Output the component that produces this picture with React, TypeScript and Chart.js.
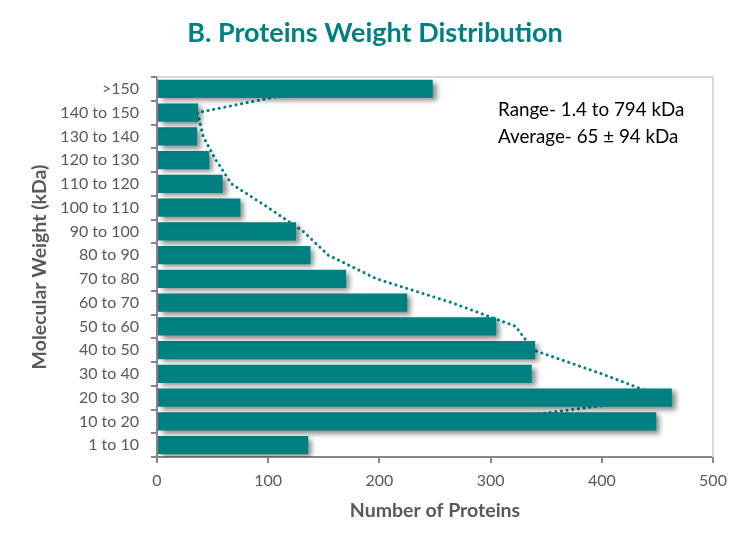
import React, { useEffect, useRef } from 'react';
import { Chart, registerables } from 'chart.js';

Chart.register(...registerables);

// categories listed bottom-up, as in the source sheet
const weightBins = [
  '1 to 10', '10 to 20', '20 to 30', '30 to 40', '40 to 50', '50 to 60',
  '60 to 70', '70 to 80', '80 to 90', '90 to 100', '100 to 110',
  '110 to 120', '120 to 130', '130 to 140', '140 to 150', '>150',
];
const proteinCounts = [136, 449, 463, 337, 340, 305, 225, 170, 138, 125, 75, 59, 47, 36, 37, 248];
const xTicks = [0, 100, 200, 300, 400, 500];
const notes = ['Range- 1.4 to 794 kDa', 'Average- 65 ± 94 kDa'];

// Excel-style 2 period moving average trendline
const trend = proteinCounts.map((v, i) => (i === 0 ? null : (v + proteinCounts[i - 1]) / 2));

const TEAL = '#008080';
const AXIS = '#868686';
const LABEL = '#595959';
const FONT = 'Lato, "Open Sans", sans-serif';

const decorations = {
  id: 'decorations',
  beforeDatasetsDraw(chart: any) {
    const { ctx, chartArea: a } = chart;
    ctx.save();
    ctx.strokeStyle = '#d9d9d9';
    ctx.lineWidth = 2;
    ctx.beginPath();
    ctx.moveTo(a.left, a.top);
    ctx.lineTo(a.right, a.top);
    ctx.lineTo(a.right, a.bottom);
    ctx.stroke();
    ctx.restore();
  },
  beforeDatasetDraw(chart: any, args: any) {
    if (chart.data.datasets[args.index].type === 'line') return;
    const ctx = chart.ctx;
    ctx.save();
    ctx.shadowColor = 'rgba(0,0,0,0.45)';
    ctx.shadowBlur = 5;
    ctx.shadowOffsetX = 4;
    ctx.shadowOffsetY = 3;
  },
  afterDatasetDraw(chart: any, args: any) {
    if (chart.data.datasets[args.index].type === 'line') return;
    chart.ctx.restore();
  },
  afterDraw(chart: any) {
    const { ctx, chartArea: a } = chart;
    ctx.save();
    ctx.textBaseline = 'middle';
    ctx.textAlign = 'center';
    ctx.fillStyle = TEAL;
    ctx.font = `bold 27px ${FONT}`;
    ctx.fillText('B. Proteins Weight Distribution', 375, 33);

    ctx.fillStyle = LABEL;
    ctx.font = `bold 19.5px ${FONT}`;
    ctx.fillText('Number of Proteins', (a.left + a.right) / 2, 511);
    ctx.translate(40, (a.top + a.bottom) / 2);
    ctx.rotate(-Math.PI / 2);
    ctx.fillText('Molecular Weight (kDa)', 0, 0);
    ctx.restore();

    ctx.save();
    ctx.fillStyle = '#000';
    ctx.font = `18.8px ${FONT}`;
    ctx.textBaseline = 'middle';
    ctx.textAlign = 'left';
    notes.forEach((t, i) => ctx.fillText(t, 498, 110 + i * 27));
    ctx.restore();
  },
};

export default function App() {
  const canvasRef = useRef<HTMLCanvasElement | null>(null);

  useEffect(() => {
    document.body.style.margin = '0';
    const ctx = canvasRef.current;
    if (!ctx) return;

    const chart = new Chart(ctx, {
      type: 'bar',
      data: {
        labels: weightBins,
        datasets: [
          {
            type: 'bar',
            data: proteinCounts,
            backgroundColor: TEAL,
            barPercentage: 1,
            categoryPercentage: 0.77,
            order: 1,
          },
          {
            type: 'line',
            indexAxis: 'y',
            data: trend,
            borderColor: TEAL,
            borderWidth: 3,
            borderDash: [0.1, 5.6],
            borderCapStyle: 'round',
            pointRadius: 0,
            tension: 0,
            fill: false,
            order: 2,
          } as any,
        ],
      },
      options: {
        indexAxis: 'y',
        animation: false,
        responsive: true,
        maintainAspectRatio: false,
        layout: { padding: { left: 0, top: 77, right: 37, bottom: 0 } },
        plugins: { legend: { display: false }, tooltip: { enabled: false } },
        scales: {
          x: {
            min: 0,
            max: 500,
            afterFit: (s: any) => { s.height = 92; },
            afterBuildTicks: (s: any) => { s.ticks = xTicks.map((v) => ({ value: v })); },
            ticks: { color: LABEL, font: { family: FONT, size: 16 }, padding: 8 },
            grid: { drawOnChartArea: false, drawTicks: true, tickLength: 6, color: AXIS, lineWidth: 2 },
            border: { color: AXIS, width: 2 },
          },
          y: {
            reverse: true,
            afterFit: (s: any) => { s.width = 157; },
            ticks: { color: LABEL, font: { family: FONT, size: 16 }, padding: 12, autoSkip: false },
            grid: { drawOnChartArea: false, drawTicks: true, tickLength: 6, color: AXIS, lineWidth: 2, offset: true },
            border: { color: AXIS, width: 2 },
          },
        },
      },
      plugins: [decorations],
    });

    return () => {
      chart.destroy();
    };
  }, []);

  return (
    <div style={{ width: 750, height: 549, position: 'relative' }}>
      <canvas ref={canvasRef} />
    </div>
  );
}
